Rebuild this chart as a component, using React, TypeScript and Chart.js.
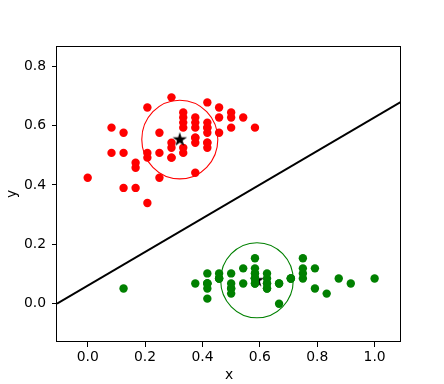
import React, { useEffect, useRef } from "react";
import { Chart, registerables } from "chart.js";

Chart.register(...registerables);

// Axis limits and ticks
const X_MIN = -0.107;
const X_MAX = 1.092;
const Y_MIN = -0.129;
const Y_MAX = 0.868;
const X_TICKS = [0.0, 0.2, 0.4, 0.6, 0.8, 1.0];
const Y_TICKS = [0.0, 0.2, 0.4, 0.6, 0.8];

// Red cluster
const RED_X = [
  0.5, 0.5, 0.458, 0.125, 0.333, 0.333, 0.542, 0.167, 0.375, 0.292,
  0.0, 0.417, 0.083, 0.375, 0.375, 0.458, 0.417, 0.292, 0.083, 0.208,
  0.5, 0.333, 0.208, 0.333, 0.375, 0.417, 0.333, 0.417, 0.375, 0.25,
  0.167, 0.167, 0.292, 0.292, 0.417, 0.583, 0.458, 0.125, 0.417, 0.208,
  0.25, 0.417, 0.25, 0.125, 0.292, 0.417, 0.375, 0.375, 0.208, 0.333,
];
const RED_Y = [
  0.627, 0.593, 0.661, 0.508, 0.61, 0.593, 0.627, 0.39, 0.61, 0.492,
  0.424, 0.542, 0.508, 0.627, 0.441, 0.576, 0.593, 0.525, 0.593, 0.492,
  0.644, 0.508, 0.661, 0.627, 0.559, 0.576, 0.644, 0.678, 0.593, 0.424,
  0.475, 0.458, 0.492, 0.695, 0.593, 0.593, 0.627, 0.576, 0.525, 0.508,
  0.576, 0.61, 0.508, 0.39, 0.542, 0.542, 0.542, 0.559, 0.339, 0.525,
];

// Green cluster
const GREEN_X = [
  0.625, 0.417, 0.5, 0.458, 0.667, 0.792, 0.583, 0.583, 0.375, 0.458,
  0.708, 0.583, 0.417, 0.417, 0.833, 1.0, 0.792, 0.625, 0.75, 0.75,
  0.583, 0.708, 0.667, 0.542, 0.583, 0.417, 0.583, 0.625, 0.583, 0.5,
  0.458, 0.583, 0.875, 0.917, 0.458, 0.5, 0.625, 0.667, 0.417, 0.583,
  0.625, 0.125, 0.5, 0.625, 0.75, 0.417, 0.75, 0.5, 0.708, 0.542,
];
const GREEN_Y = [
  0.068, 0.068, 0.051, 0.085, 0.068, 0.119, 0.068, 0.085, 0.068, 0.085,
  0.085, 0.102, 0.068, 0.017, 0.034, 0.085, 0.051, 0.068, 0.119, 0.085,
  0.119, 0.085, 0.0, 0.119, 0.153, 0.102, 0.102, 0.085, 0.068, 0.102,
  0.102, 0.085, 0.085, 0.068, 0.085, 0.034, 0.051, 0.068, 0.051, 0.085,
  0.051, 0.051, 0.051, 0.102, 0.153, 0.068, 0.102, 0.068, 0.085, 0.068,
];

// Cluster centres (stars) and circle radii (data units)
const RED_CENTER = [0.321, 0.553];
const GREEN_CENTER = [0.59, 0.079];
const RED_RADIUS = 0.1325;
const GREEN_RADIUS = 0.1265;

// Separating line end points
const LINE_X = [-0.107, 1.092];
const LINE_Y = [0.0, 0.68];

const FONT_FAMILY = "'DejaVu Sans', 'Liberation Sans', sans-serif";
const FONT_SIZE = 13.9;

function makeStar(): HTMLCanvasElement {
  const c = document.createElement("canvas");
  c.width = 18;
  c.height = 18;
  const ctx = c.getContext("2d")!;
  const R = 7.6;
  const r = R * 0.382;
  ctx.beginPath();
  for (let i = 0; i < 10; i++) {
    const rad = i % 2 === 0 ? R : r;
    const a = -Math.PI / 2 + (i * Math.PI) / 5;
    const px = 9 + rad * Math.cos(a);
    const py = 9 + rad * Math.sin(a);
    if (i === 0) ctx.moveTo(px, py);
    else ctx.lineTo(px, py);
  }
  ctx.closePath();
  ctx.fillStyle = "#000";
  ctx.fill();
  return c;
}

const framePlugin = {
  id: "frame",
  afterDatasetsDraw(chart: any) {
    const { ctx, chartArea, scales } = chart;
    const xs = scales.x;
    const ys = scales.y;
    const circles = [
      { c: RED_CENTER, r: RED_RADIUS, color: "#ff0000" },
      { c: GREEN_CENTER, r: GREEN_RADIUS, color: "#008000" },
    ];
    ctx.save();
    for (const circ of circles) {
      const cx = xs.getPixelForValue(circ.c[0]);
      const cy = ys.getPixelForValue(circ.c[1]);
      const rx = Math.abs(xs.getPixelForValue(circ.c[0] + circ.r) - cx);
      const ry = Math.abs(ys.getPixelForValue(circ.c[1] + circ.r) - cy);
      ctx.beginPath();
      ctx.ellipse(cx, cy, rx, ry, 0, 0, Math.PI * 2);
      ctx.strokeStyle = circ.color;
      ctx.lineWidth = 1.1;
      ctx.stroke();
    }
    ctx.strokeStyle = "#000";
    ctx.lineWidth = 1;
    const l = Math.round(chartArea.left) - 0.5;
    const t = Math.round(chartArea.top) + 0.5;
    const rr = Math.round(chartArea.right) - 0.5;
    const b = Math.round(chartArea.bottom) - 0.5;
    ctx.strokeRect(l, t, rr - l, b - t);
    ctx.restore();
  },
};

export default function App() {
  const ref = useRef<HTMLCanvasElement | null>(null);

  useEffect(() => {
    if (!ref.current) return;
    const star = makeStar();
    const tickFont = { family: FONT_FAMILY, size: FONT_SIZE };
    const chart = new Chart(ref.current, {
      type: "scatter",
      data: {
        datasets: [
          {
            label: "line",
            data: LINE_X.map((x, i) => ({ x, y: LINE_Y[i] })),
            showLine: true,
            borderColor: "#000",
            borderWidth: 2,
            pointRadius: 0,
            order: 5,
          } as any,
          {
            label: "green centre",
            data: [{ x: GREEN_CENTER[0], y: GREEN_CENTER[1] }],
            pointStyle: star,
            pointRadius: 8,
            order: 4,
          } as any,
          {
            label: "green",
            data: GREEN_X.map((x, i) => ({ x, y: GREEN_Y[i] })),
            backgroundColor: "#008000",
            borderWidth: 0,
            pointRadius: 4.2,
            order: 3,
          },
          {
            label: "red",
            data: RED_X.map((x, i) => ({ x, y: RED_Y[i] })),
            backgroundColor: "#ff0000",
            borderWidth: 0,
            pointRadius: 4.2,
            order: 2,
          },
          {
            label: "red centre",
            data: [{ x: RED_CENTER[0], y: RED_CENTER[1] }],
            pointStyle: star,
            pointRadius: 8,
            order: 1,
          } as any,
        ],
      },
      options: {
        animation: false,
        responsive: false,
        layout: { padding: { left: 0, right: 43, top: 46, bottom: 0 } },
        plugins: {
          legend: { display: false },
          tooltip: { enabled: false },
        },
        scales: {
          x: {
            type: "linear",
            min: X_MIN,
            max: X_MAX,
            afterBuildTicks: (s: any) => {
              s.ticks = X_TICKS.map((v) => ({ value: v }));
            },
            afterFit: (s: any) => {
              s.height = 42;
            },
            grid: {
              drawOnChartArea: false,
              drawTicks: true,
              tickLength: 5,
              tickColor: "#000",
              tickWidth: 1,
            },
            border: { display: false },
            ticks: {
              color: "#000",
              font: tickFont,
              padding: 2,
              maxRotation: 0,
              autoSkip: false,
              callback: (v: any) => Number(v).toFixed(1),
            },
            title: {
              display: true,
              text: "x",
              color: "#000",
              font: tickFont,
              padding: { top: 0, bottom: 0 },
            },
          },
          y: {
            type: "linear",
            min: Y_MIN,
            max: Y_MAX,
            afterBuildTicks: (s: any) => {
              s.ticks = Y_TICKS.map((v) => ({ value: v }));
            },
            afterFit: (s: any) => {
              s.width = 57;
            },
            grid: {
              drawOnChartArea: false,
              drawTicks: true,
              tickLength: 5,
              tickColor: "#000",
              tickWidth: 1,
            },
            border: { display: false },
            ticks: {
              color: "#000",
              font: tickFont,
              padding: 6,
              autoSkip: false,
              callback: (v: any) => Number(v).toFixed(1),
            },
            title: {
              display: true,
              text: "y",
              color: "#000",
              font: tickFont,
              padding: { top: 4, bottom: 0 },
            },
          },
        },
      },
      plugins: [framePlugin],
    });
    return () => chart.destroy();
  }, []);

  return (
    <div style={{ position: "absolute", left: 0, top: 0, width: 444, height: 384, background: "#fff" }}>
      <canvas ref={ref} width={444} height={384} />
    </div>
  );
}
